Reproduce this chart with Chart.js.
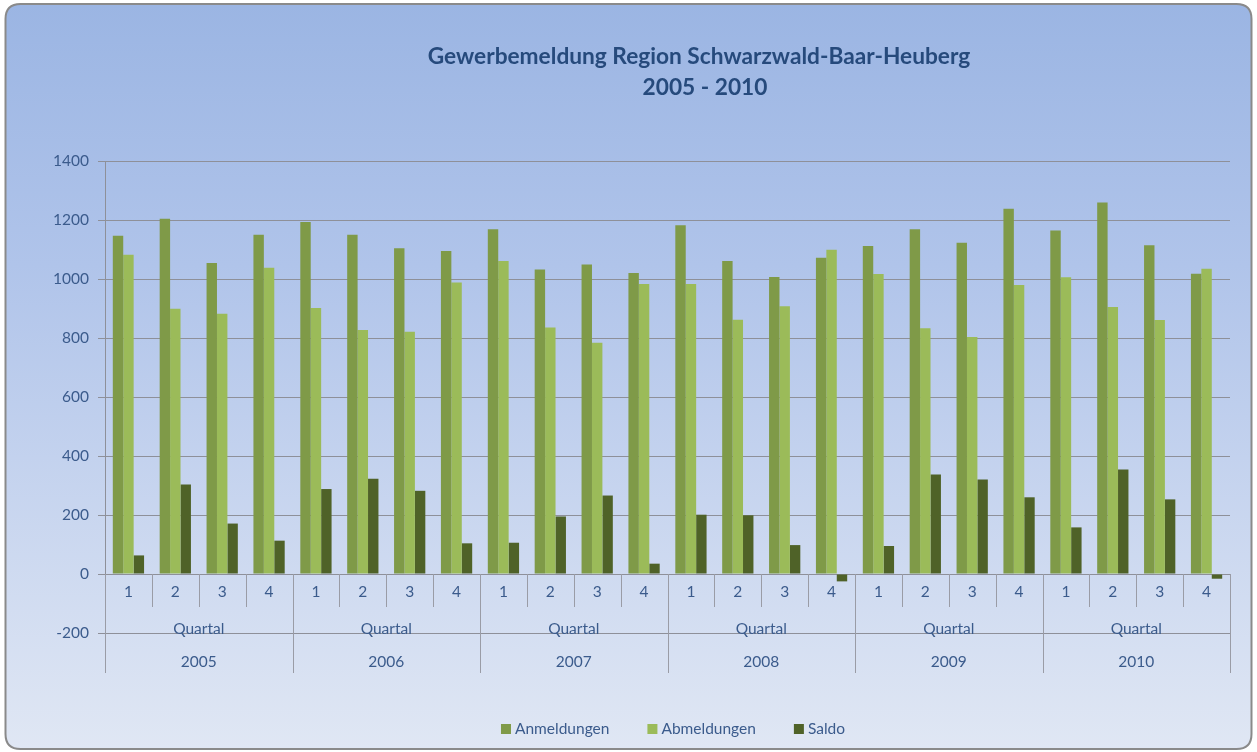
<!DOCTYPE html>
<html><head><meta charset="utf-8">
<script src="https://cdn.jsdelivr.net/npm/chart.js@4.4.0/dist/chart.umd.min.js"></script>
<style>html,body{margin:0;padding:0;background:#fff;overflow:hidden}</style>
</head><body>
<canvas id="c" width="1257" height="752"></canvas>
<script>
const chartTitle = ['Gewerbemeldung Region Schwarzwald-Baar-Heuberg', '2005 - 2010'];
const years = ['2005', '2006', '2007', '2008', '2009', '2010'];
const quarters = ['1', '2', '3', '4'];
const quarterGroupLabel = 'Quartal';
const seriesNames = ['Anmeldungen', 'Abmeldungen', 'Saldo'];
const anmeldungen = [1147, 1204, 1054, 1150, 1193, 1150, 1104, 1095, 1169, 1032, 1049, 1020, 1182, 1061, 1007, 1072, 1112, 1169, 1123, 1238, 1164, 1259, 1114, 1018];
const abmeldungen = [1082, 899, 882, 1038, 902, 827, 821, 988, 1061, 836, 784, 983, 983, 862, 908, 1099, 1017, 833, 803, 980, 1006, 905, 861, 1035];
const saldo = [63, 303, 171, 113, 288, 323, 282, 104, 106, 195, 266, 35, 201, 199, 98, -25, 95, 337, 320, 260, 158, 354, 253, -16];
const yMin = -200, yMax = 1400, yStep = 200;

const categories = [];
years.forEach(y => quarters.forEach(q => categories.push(y + ' ' + q)));

const FONT = 'Lato, "DejaVu Sans", sans-serif';
const TXT = '#3b5b8c';
const GRID = '#8e9099';
const colors = ['#7f9a48', '#9bbb59', '#4f6228'];

const decor = {
  id: 'decor',
  beforeDraw(chart) {
    const ctx = chart.ctx, W = chart.width, H = chart.height;
    ctx.save();
    ctx.fillStyle = '#ffffff';
    ctx.fillRect(0, 0, W, H);
    const x0 = 5.5, y0 = 4, x1 = 1251.5, y1 = 749, r = 15;
    ctx.beginPath();
    ctx.moveTo(x0 + r, y0);
    ctx.lineTo(x1 - r, y0);
    ctx.quadraticCurveTo(x1, y0, x1, y0 + r);
    ctx.lineTo(x1, y1 - r);
    ctx.quadraticCurveTo(x1, y1, x1 - r, y1);
    ctx.lineTo(x0 + r, y1);
    ctx.quadraticCurveTo(x0, y1, x0, y1 - r);
    ctx.lineTo(x0, y0 + r);
    ctx.quadraticCurveTo(x0, y0, x0 + r, y0);
    ctx.closePath();
    const g = ctx.createLinearGradient(0, y0, 0, y1);
    g.addColorStop(0, '#9bb5e3');
    g.addColorStop(0.35, '#b0c4ea');
    g.addColorStop(1, '#e0e7f4');
    ctx.fillStyle = g;
    ctx.fill();
    ctx.lineWidth = 2;
    ctx.strokeStyle = '#8a8a8a';
    ctx.stroke();
    ctx.restore();
  },
  afterDraw(chart) {
    const ctx = chart.ctx, xs = chart.scales.x, ys = chart.scales.y, area = chart.chartArea;
    const zeroY = ys.getPixelForValue(0);
    const n = categories.length;
    const nq = quarters.length;
    ctx.save();
    ctx.strokeStyle = '#9a9ca6';
    ctx.lineWidth = 1;
    for (let i = 0; i <= n; i++) {
      let x;
      if (i === 0) x = area.left;
      else if (i === n) x = area.right;
      else x = (xs.getPixelForValue(i - 1) + xs.getPixelForValue(i)) / 2;
      x = Math.round(x) + 0.5;
      const len = (i % nq === 0) ? 99 : 33;
      ctx.beginPath();
      ctx.moveTo(x, zeroY);
      ctx.lineTo(x, zeroY + len);
      ctx.stroke();
    }
    ctx.fillStyle = TXT;
    ctx.textAlign = 'center';
    ctx.textBaseline = 'middle';
    ctx.font = '15.5px ' + FONT;
    for (let i = 0; i < n; i++) {
      ctx.fillText(quarters[i % nq], xs.getPixelForValue(i), zeroY + 18);
    }
    years.forEach((yr, k) => {
      const a = xs.getPixelForValue(k * nq), b = xs.getPixelForValue(k * nq + nq - 1);
      const cx = (a + b) / 2;
      ctx.fillText(quarterGroupLabel, cx, zeroY + 55);
      ctx.fillText(yr, cx, zeroY + 88);
    });
    ctx.fillStyle = '#264a7c';
    ctx.font = 'bold 22.7px ' + FONT;
    ctx.fillText(chartTitle[0], 699, 57);
    ctx.fillText(chartTitle[1], 705, 88);
    ctx.font = '15.5px ' + FONT;
    const gap = 38, sq = 10, sp = 4;
    const widths = seriesNames.map(s => ctx.measureText(s).width);
    const total = widths.reduce((a, w) => a + w + sq + sp, 0) + gap * (seriesNames.length - 1);
    let lx = 673 - total / 2;
    const ly = 729;
    ctx.textAlign = 'left';
    chart.data.datasets.forEach((ds, i) => {
      ctx.fillStyle = ds.backgroundColor;
      ctx.fillRect(lx, ly - 5, sq, sq);
      ctx.fillStyle = TXT;
      ctx.fillText(ds.label, lx + sq + sp, ly);
      lx += sq + sp + widths[i] + gap;
    });
    ctx.restore();
  }
};

new Chart(document.getElementById('c'), {
  type: 'bar',
  data: {
    labels: categories,
    datasets: [
      { label: seriesNames[0], data: anmeldungen, backgroundColor: colors[0] },
      { label: seriesNames[1], data: abmeldungen, backgroundColor: colors[1] },
      { label: seriesNames[2], data: saldo, backgroundColor: colors[2] }
    ]
  },
  options: {
    responsive: false,
    devicePixelRatio: 1,
    animation: false,
    layout: { padding: { left: 0, right: 27, top: 161, bottom: 119 } },
    datasets: { bar: { categoryPercentage: 0.667, barPercentage: 1.0, borderWidth: 0 } },
    plugins: { legend: { display: false }, title: { display: false }, tooltip: { enabled: false } },
    scales: {
      x: { display: false, offset: true, grid: { display: false } },
      y: {
        min: yMin, max: yMax,
        ticks: { stepSize: yStep, color: TXT, font: { family: FONT, size: 15.5 }, padding: 9, callback: v => String(v) },
        grid: { color: GRID, lineWidth: 1, tickLength: 7, drawTicks: true },
        border: { display: true, color: GRID, width: 1 },
        afterFit(s) { s.width = 105; }
      }
    }
  },
  plugins: [decor]
});
</script>
</body></html>
